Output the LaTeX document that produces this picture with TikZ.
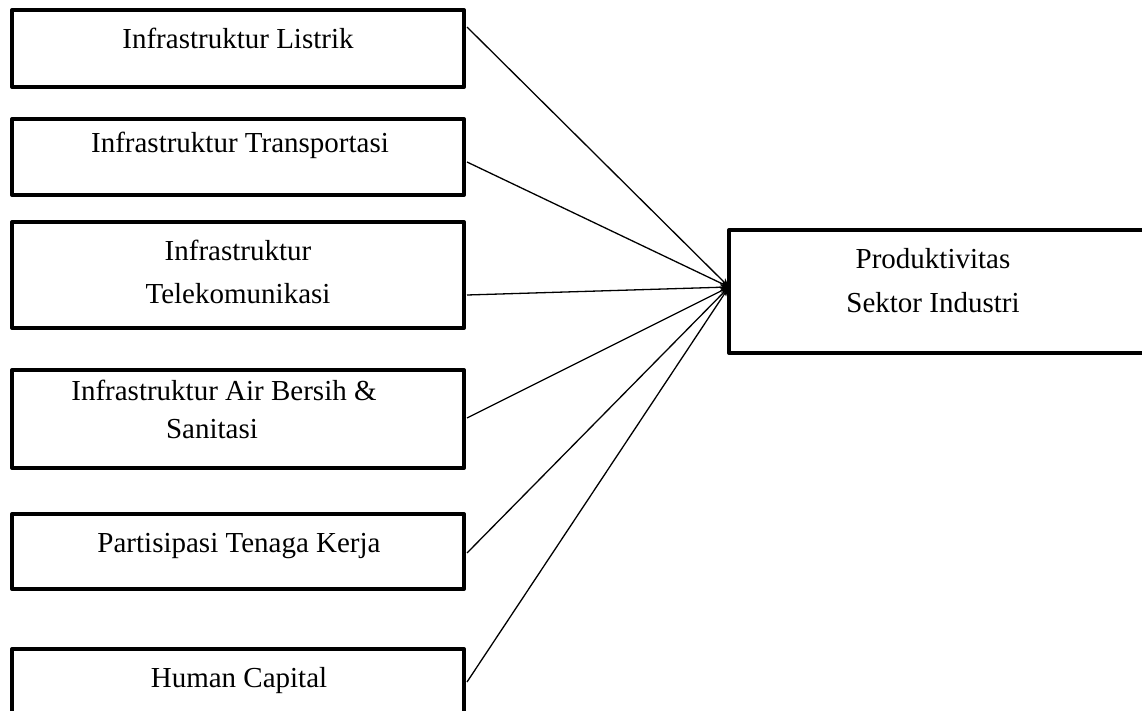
\documentclass[tikz,border=0pt]{standalone}
\usepackage{fontspec}
\setmainfont{Liberation Serif}
\usetikzlibrary{arrows.meta}
\begin{document}
\begin{tikzpicture}[x=1pt,y=-1pt,
  box/.style={draw=black,line width=4pt,line join=round,minimum width=452pt,inner sep=0pt,outer sep=0pt},
  bigbox/.style={draw=black,line width=4pt,line join=round,inner sep=0pt,outer sep=0pt},
  txt/.style={anchor=base,inner sep=0pt,font=\fontsize{29}{34}\selectfont},
  arr/.style={line width=1.3pt,-{Stealth[length=9pt,width=7pt]}}]
\clip (0,0) rectangle (1142,711);
\fill[white] (0,0) rectangle (1142,711);
% left boxes (centre line geometry)
\node[box,minimum height=77pt] (b1) at (238,48.5) {};
\node[box,minimum height=76pt] (b2) at (238,157) {};
\node[box,minimum height=106pt] (b3) at (238,275) {};
\node[box,minimum height=98pt] (b4) at (238,419) {};
\node[box,minimum height=75pt] (b5) at (238,551.5) {};
\node[box,minimum height=90pt] (b6) at (238,694) {};
% right box
\node[bigbox,minimum width=450pt,minimum height=123pt] (r) at (954,291.5) {};
% texts
\node[txt] (t1) at (238,49) {Infrastruktur Listrik};
\node[txt] (t2) at (240,153) {Infrastruktur Transportasi};
\node[txt] (t3a) at (238,261) {Infrastruktur};
\node[txt] (t3b) at (238,303) {Telekomunikasi};
\node[txt] (t4a) at (224,400) {Infrastruktur Air Bersih \&};
\node[txt] (t4b) at (212,438) {Sanitasi};
\node[txt] (t5) at (239,552) {Partisipasi Tenaga Kerja};
\node[txt] (t6) at (239,687) {Human Capital};
\node[txt] (r1) at (933,268) {Produktivitas};
\node[txt] (r2) at (933,312) {Sektor Industri};
% connector end points
\coordinate (t) at ([yshift=4.5pt]r.west);
\coordinate (s1) at ([yshift=21.5pt]b1.east);
\coordinate (s2) at ([yshift=-5pt]b2.east);
\coordinate (s3) at ([yshift=-20pt]b3.east);
\coordinate (s4) at ([yshift=1pt]b4.east);
\coordinate (s5) at ([yshift=-1.5pt]b5.east);
\coordinate (s6) at ([yshift=12pt]b6.east);
\foreach \s in {s1,s2,s3,s4,s5,s6}
  \draw[arr] ([xshift=3pt]\s) -- (t);
\end{tikzpicture}
\end{document}
